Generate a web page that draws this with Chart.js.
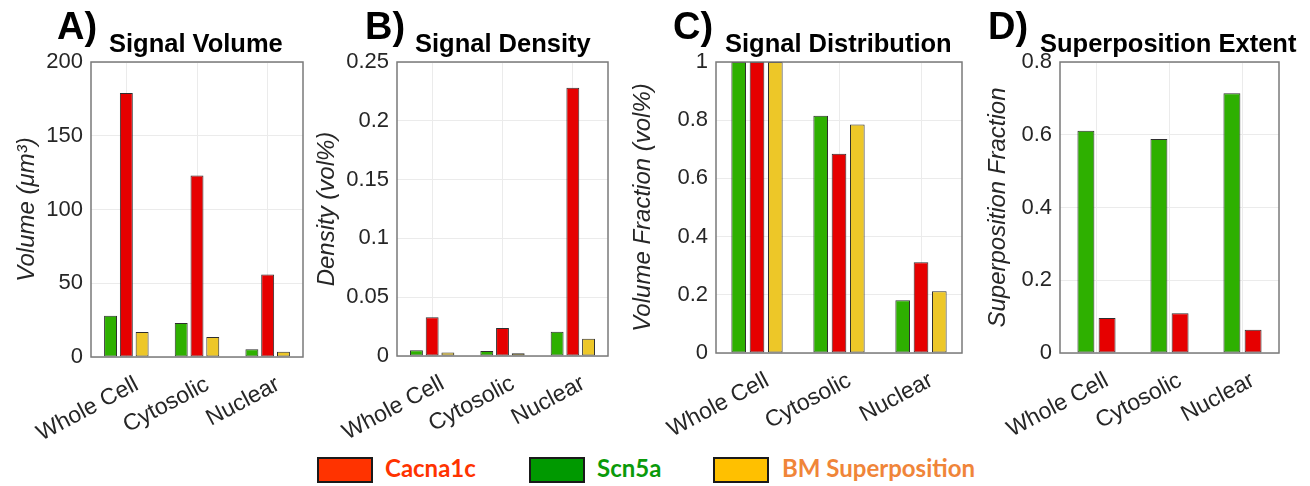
<!DOCTYPE html>
<html>
<head>
<meta charset="utf-8">
<script src="https://cdn.jsdelivr.net/npm/chart.js@4.4.1/dist/chart.umd.min.js"></script>
<style>
	body {
		margin: 0;
		width: 1310px;
		height: 486px;
		background: #fff;
		position: relative;
		overflow: hidden;
		font-family: "Liberation Sans", Arial, sans-serif;
	}
	canvas {
		position: absolute;
		top: 0;
	}
	.letra {
		position: absolute;
		top: 7px;
		font-weight: bold;
		font-size: 38px;
		line-height: 1;
		color: #000;
	}
	.titulo {
		position: absolute;
		top: 31px;
		font-weight: bold;
		font-size: 25.5px;
		line-height: 1;
		color: #000;
		white-space: nowrap;
	}
	.leg-caixa {
		position: absolute;
		top: 457px;
		width: 52px;
		height: 22px;
		border: 2px solid #1a1a1a;
	}
	.leg-texto {
		position: absolute;
		top: 456px;
		font-family: Lato, "Open Sans", sans-serif;
		font-weight: bold;
		font-size: 24px;
		line-height: 1;
		white-space: nowrap;
	}
</style>
</head>
<body>

<canvas id="graficoA" width="312" height="440" style="left:0px"></canvas>
<canvas id="graficoB" width="305" height="440" style="left:312px"></canvas>
<canvas id="graficoC" width="353" height="440" style="left:617px"></canvas>
<canvas id="graficoD" width="340" height="440" style="left:970px"></canvas>

<div class="letra" style="left:57px">A)</div>
<div class="titulo" style="left:109px">Signal Volume</div>
<div class="letra" style="left:365px">B)</div>
<div class="titulo" style="left:415px">Signal Density</div>
<div class="letra" style="left:673px">C)</div>
<div class="titulo" style="left:725px">Signal Distribution</div>
<div class="letra" style="left:988px">D)</div>
<div class="titulo" style="left:1040px">Superposition Extent</div>

<div class="leg-caixa" style="left:317px; background:#ff3300"></div>
<div class="leg-texto" style="left:385px; color:#ff3300">Cacna1c</div>
<div class="leg-caixa" style="left:529px; background:#009900"></div>
<div class="leg-texto" style="left:597px; color:#0a9a0a">Scn5a</div>
<div class="leg-caixa" style="left:713px; background:#ffc000"></div>
<div class="leg-texto" style="left:782px; color:#f08539">BM Superposition</div>

<script>
// categorias e valores
var categorias = ["Whole Cell", "Cytosolic", "Nuclear"];

var volumeScn5a = [28, 23, 5.2];
var volumeCacna1c = [179, 123, 56];
var volumeBM = [17, 13.5, 3.6];

var densidadeScn5a = [0.0048, 0.0043, 0.0207];
var densidadeCacna1c = [0.033, 0.0238, 0.228];
var densidadeBM = [0.003, 0.0023, 0.0147];

var distribScn5a = [1, 0.815, 0.181];
var distribCacna1c = [1, 0.685, 0.312];
var distribBM = [1, 0.785, 0.212];

var superScn5a = [0.611, 0.588, 0.714];
var superCacna1c = [0.096, 0.109, 0.064];

var corVerde = "rgb(46, 176, 0)";
var corVermelho = "rgb(230, 0, 0)";
var corAmarelo = "rgb(237, 199, 40)";
var corBorda = "#2e2e2e";
var corTexto = "#262626";

Chart.defaults.font.family = "'Liberation Sans', Arial, sans-serif";

// desenha a caixa em volta da area do grafico (estilo matlab)
var caixaPlugin = {
	id: "caixa",
	afterDraw: function (chart) {
		var ctx = chart.ctx;
		var a = chart.chartArea;
		ctx.save();
		ctx.strokeStyle = "#7a7a7a";
		ctx.lineWidth = 1.5;
		ctx.strokeRect(a.left, a.top, a.right - a.left, a.bottom - a.top);
		ctx.restore();
	},
};

// rotulos do eixo x inclinados, ancorados no tick (como no matlab)
var rotulosPlugin = {
	id: "rotulos",
	afterDraw: function (chart) {
		var ctx = chart.ctx;
		var escala = chart.scales.x;
		ctx.save();
		ctx.font = "23px 'Liberation Sans', Arial, sans-serif";
		ctx.fillStyle = corTexto;
		ctx.textAlign = "right";
		ctx.textBaseline = "top";
		for (var i = 0; i < escala.ticks.length; i++) {
			var x = escala.getPixelForTick(i) + 5;
			var y = chart.chartArea.bottom + 16;
			ctx.save();
			ctx.translate(x, y);
			ctx.rotate((-28 * Math.PI) / 180);
			ctx.fillText(chart.data.labels[i], 0, 0);
			ctx.restore();
		}
		ctx.restore();
	},
};

function conjunto(dados, cor, bp, cp) {
	return {
		data: dados,
		backgroundColor: cor,
		borderColor: corBorda,
		borderWidth: 1,
		borderSkipped: false,
		barPercentage: bp,
		categoryPercentage: cp,
	};
}

function criarGrafico(id, conjuntos, cfg) {
	return new Chart(document.getElementById(id), {
		type: "bar",
		data: {
			labels: categorias,
			datasets: conjuntos,
		},
		plugins: [caixaPlugin, rotulosPlugin],
		options: {
			responsive: false,
			animation: false,
			devicePixelRatio: 1,
			layout: {
				padding: { top: 62, right: cfg.direita, left: 0, bottom: 0 },
			},
			plugins: {
				legend: { display: false },
				tooltip: { enabled: false },
			},
			scales: {
				x: {
					grid: { offset: false, color: "#ebebeb", drawTicks: false },
					border: { display: false },
					ticks: { display: false, autoSkip: false },
					afterFit: function (escala) {
						escala.height = 440 - cfg.baixo;
					},
				},
				y: {
					min: 0,
					max: cfg.max,
					grid: { color: "#ebebeb", drawTicks: false },
					border: { display: false },
					ticks: {
						stepSize: cfg.passo,
						color: corTexto,
						font: { size: 22 },
						padding: 8,
						callback: function (v) {
							return String(+v.toFixed(3));
						},
					},
					title: {
						display: true,
						text: cfg.tituloY,
						color: corTexto,
						font: { size: 24, style: "italic" },
						padding: { top: cfg.padTitulo, bottom: 0 },
					},
					afterFit: function (escala) {
						escala.width = cfg.larguraY;
					},
				},
			},
		},
	});
}

criarGrafico(
	"graficoA",
	[
		conjunto(volumeScn5a, corVerde, 0.82, 0.67),
		conjunto(volumeCacna1c, corVermelho, 0.82, 0.67),
		conjunto(volumeBM, corAmarelo, 0.82, 0.67),
	],
	{ max: 200, passo: 50, tituloY: "Volume (\u03bcm\u00b3)", padTitulo: 13, larguraY: 91, direita: 9, baixo: 357 },
);

criarGrafico(
	"graficoB",
	[
		conjunto(densidadeScn5a, corVerde, 0.82, 0.67),
		conjunto(densidadeCacna1c, corVermelho, 0.82, 0.67),
		conjunto(densidadeBM, corAmarelo, 0.82, 0.67),
	],
	{ max: 0.25, passo: 0.05, tituloY: "Density (vol%)", padTitulo: 1, larguraY: 85, direita: 9, baixo: 356 },
);

criarGrafico(
	"graficoC",
	[
		conjunto(distribScn5a, corVerde, 0.8, 0.67),
		conjunto(distribCacna1c, corVermelho, 0.8, 0.67),
		conjunto(distribBM, corAmarelo, 0.8, 0.67),
	],
	{ max: 1, passo: 0.2, tituloY: "Volume Fraction (vol%)", padTitulo: 12, larguraY: 99, direita: 8, baixo: 353 },
);

criarGrafico(
	"graficoD",
	[
		conjunto(superScn5a, corVerde, 0.8, 0.58),
		conjunto(superCacna1c, corVermelho, 0.8, 0.58),
	],
	{ max: 0.8, passo: 0.2, tituloY: "Superposition Fraction", padTitulo: 14, larguraY: 90, direita: 31, baixo: 353 },
);
</script>
</body>
</html>
